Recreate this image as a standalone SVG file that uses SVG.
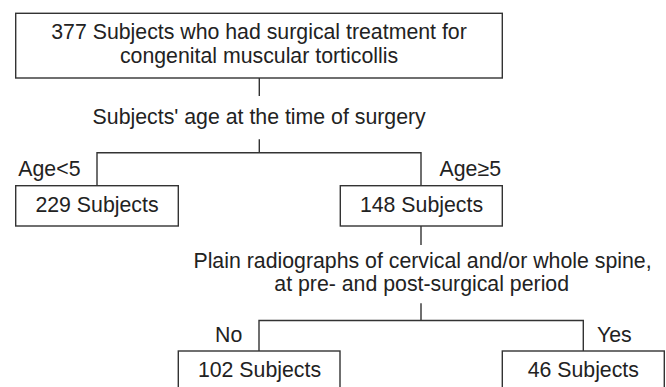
<svg xmlns="http://www.w3.org/2000/svg" width="666" height="387" viewBox="0 0 666 387">
<style>
.box{fill:#fff;stroke:#333;stroke-width:1.4}
.ln{fill:none;stroke:#333;stroke-width:1.4}
text{font-family:"Liberation Sans",Arial,sans-serif;font-size:21.3px;fill:#222}
.c{text-anchor:middle}
.e{text-anchor:end}
</style>
<rect width="666" height="387" fill="#fff"/>
<g id="connectors">
<path class="ln" d="M259.3 78V96"/>
<path class="ln" d="M259.3 139.3V152.7M97 185.7V152.7H421V185.7"/>
<path class="ln" d="M421 226V245"/>
<path class="ln" d="M421 303.3V320.5M259 351V320.5H583.3V351"/>
</g>
<g id="n-top">
<rect class="box" x="15.7" y="13.3" width="486.6" height="64.7"/>
<text class="c" x="259" y="39.3">377 Subjects who had surgical treatment for</text>
<text class="c" x="259" y="63.3">congenital muscular torticollis</text>
</g>
<g id="l-age">
<text class="c" x="259.2" y="124">Subjects' age at the time of surgery</text>
</g>
<g id="l-lt5"><text x="18.3" y="176">Age&lt;5</text></g>
<g id="l-ge5"><text class="e" x="501" y="176">Age≥5</text></g>
<g id="n-229">
<rect class="box" x="15.7" y="185.7" width="162.6" height="40.3"/>
<text class="c" x="97" y="211.7">229 Subjects</text>
</g>
<g id="n-148">
<rect class="box" x="340.3" y="185.7" width="162" height="40.3"/>
<text class="c" x="421.5" y="211.7">148 Subjects</text>
</g>
<g id="l-plain">
<text class="c" x="422.5" y="268.3">Plain radiographs of cervical and/or whole spine,</text>
<text class="c" x="421.7" y="291.3">at pre- and post-surgical period</text>
</g>
<g id="l-no"><text x="215" y="341.7">No</text></g>
<g id="l-yes"><text class="e" x="631.7" y="341.7">Yes</text></g>
<g id="n-102">
<rect class="box" x="178.3" y="351" width="161.7" height="45"/>
<text class="c" x="259.5" y="376.7">102 Subjects</text>
</g>
<g id="n-46">
<rect class="box" x="502.3" y="351" width="162" height="45"/>
<text class="c" x="583.3" y="376.7">46 Subjects</text>
</g>
</svg>
